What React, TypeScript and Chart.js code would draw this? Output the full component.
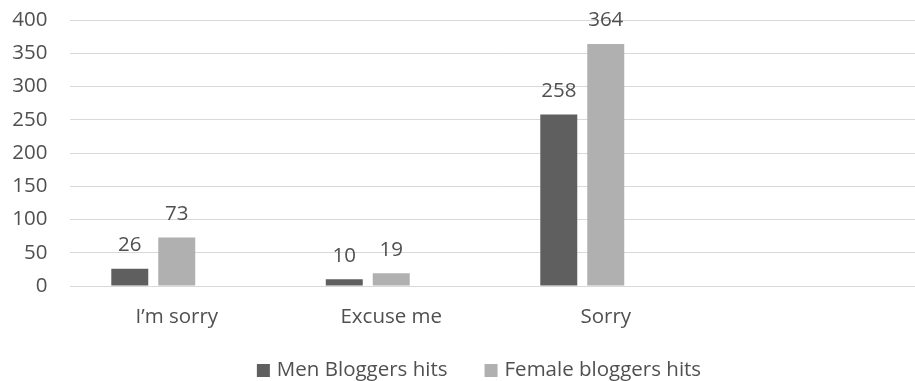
import React, { useEffect, useRef } from "react";
import { Chart, registerables } from "chart.js";

Chart.register(...registerables);

const categories = ["I’m sorry", "Excuse me", "Sorry", ""];
const menHits = [26, 10, 258, null];
const femaleHits = [73, 19, 364, null];
const emptySeries = [null, null, null, null];
const seriesNames = ["Men Bloggers hits", "Female bloggers hits", ""];
const seriesColors = ["#5f5f5f", "#b0b0b0", "rgba(0,0,0,0)"];
const yTicks = { min: 0, max: 400, step: 50 };

const FONT = "'Open Sans', sans-serif";
const FSIZE = 20.5;
const TEXT = "#505050";

const valueLabels = {
  id: "valueLabels",
  afterDatasetsDraw(chart: any) {
    const ctx = chart.ctx;
    ctx.save();
    ctx.font = `${FSIZE}px ${FONT}`;
    ctx.fillStyle = TEXT;
    ctx.textAlign = "center";
    ctx.textBaseline = "alphabetic";
    chart.data.datasets.forEach((ds: any, i: number) => {
      const meta = chart.getDatasetMeta(i);
      meta.data.forEach((bar: any, j: number) => {
        const v = ds.data[j];
        if (v === null || v === undefined) return;
        ctx.fillText(String(v), bar.x, bar.y - 17.5);
      });
    });
    ctx.restore();
  },
};

const customLegend = {
  id: "customLegend",
  afterDraw(chart: any) {
    const ctx = chart.ctx;
    const items = chart.data.datasets.filter((d: any) => d.label);
    ctx.save();
    ctx.font = `${FSIZE}px ${FONT}`;
    const box = 13;
    const gapText = 7;
    const gapItem = 37;
    const widths = items.map((d: any) => box + gapText + ctx.measureText(d.label).width);
    const total = widths.reduce((a: number, b: number) => a + b, 0) + gapItem * (items.length - 1);
    let x = chart.width / 2 - total / 2;
    const y = 370.5;
    items.forEach((d: any, i: number) => {
      ctx.fillStyle = d.backgroundColor;
      ctx.fillRect(x, y - box / 2, box, box);
      ctx.fillStyle = TEXT;
      ctx.textAlign = "left";
      ctx.textBaseline = "middle";
      ctx.fillText(d.label, x + box + gapText, y);
      x += widths[i] + gapItem;
    });
    ctx.restore();
  },
};

export default function App() {
  const ref = useRef<HTMLCanvasElement>(null);
  useEffect(() => {
    if (!ref.current) return;
    const chart = new Chart(ref.current, {
      type: "bar",
      data: {
        labels: categories,
        datasets: seriesNames.map((name, i) => ({
          label: name,
          data: [menHits, femaleHits, emptySeries][i],
          backgroundColor: seriesColors[i],
          categoryPercentage: 0.657,
          barPercentage: 0.787,
        })) as any,
      },
      options: {
        animation: false,
        responsive: false,
        maintainAspectRatio: false,
        layout: { padding: { left: 0, right: 30.5, top: 20, bottom: 45 } },
        plugins: {
          tooltip: { enabled: false },
          legend: { display: false },
        },
        scales: {
          x: {
            grid: { display: false, drawTicks: false },
            border: { display: false },
            ticks: { font: { family: FONT, size: FSIZE }, color: TEXT, padding: 19, maxRotation: 0 },
            afterFit: (s: any) => { s.height = 50; s.paddingLeft = 0; s.paddingRight = 0; },
          },
          y: {
            min: yTicks.min,
            max: yTicks.max,
            grid: { color: "#d9d9d9", drawTicks: false, lineWidth: 1 },
            border: { display: false },
            ticks: { stepSize: yTicks.step, font: { family: FONT, size: FSIZE }, color: TEXT, padding: 22 },
            afterFit: (s: any) => { s.width = 69.5; s.paddingTop = 0; s.paddingBottom = 0; },
          },
        },
      },
      plugins: [valueLabels, customLegend],
    });
    return () => chart.destroy();
  }, []);
  return (
    <div style={{ position: "fixed", left: 0, top: 0, width: 915, height: 381, overflow: "hidden", background: "#fff" }}>
      <canvas ref={ref} width={958} height={381} style={{ display: "block", width: 958, height: 381 }} />
    </div>
  );
}
